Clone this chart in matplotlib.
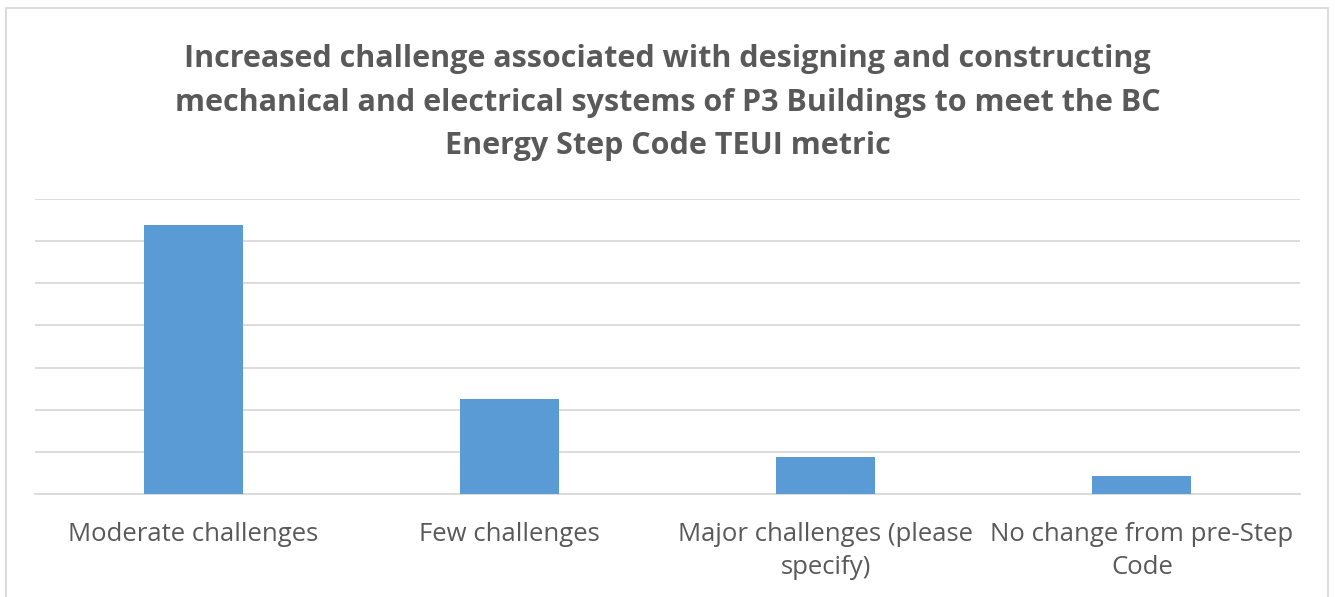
import matplotlib.pyplot as plt
from matplotlib.patches import Rectangle

TITLE = ("Increased challenge associated with designing and constructing\n"
         "mechanical and electrical systems of P3 Buildings to meet the BC\n"
         "Energy Step Code TEUI metric")
CATEGORIES = ["Moderate challenges", "Few challenges",
              "Major challenges (please\nspecify)", "No change from pre-Step\nCode"]
VALUES = [63.7, 22.5, 8.8, 4.3]   # percent of respondents (estimated)
Y_TICKS = [0, 10, 20, 30, 40, 50, 60, 70]

BAR_COLOR = "#5b9bd5"
GRID_COLOR = "#d9d9d9"
TEXT_COLOR = "#595959"

plt.rcParams['font.family'] = ['Open Sans', 'DejaVu Sans']

fig = plt.figure(figsize=(13.35, 5.97), dpi=100)
ax = fig.add_axes([35 / 1335, 1 - 494.3 / 597, 1265 / 1335, 295.8 / 597])

x = range(len(CATEGORIES))
ax.bar(x, VALUES, width=0.313, color=BAR_COLOR, zorder=3)
ax.set_xlim(-0.5, len(CATEGORIES) - 0.5)
ax.set_ylim(Y_TICKS[0], Y_TICKS[-1])
ax.set_yticks(Y_TICKS)
ax.yaxis.grid(True, color=GRID_COLOR, linewidth=1.3, zorder=0)
ax.tick_params(axis='y', left=False, labelleft=False)
ax.tick_params(axis='x', length=0, pad=20, labelsize=18.5, labelcolor=TEXT_COLOR)
ax.set_xticks(list(x))
ax.set_xticklabels(CATEGORIES, linespacing=1.42)
for side in ["top", "right", "left"]:
    ax.spines[side].set_visible(False)
ax.spines["bottom"].set_color(GRID_COLOR)
ax.spines["bottom"].set_linewidth(1.3)

fig.text(0.5, 1 - 102.5 / 597, TITLE, ha="center", va="center", fontsize=22,
         fontweight="bold", color=TEXT_COLOR, linespacing=1.58)

# chart frame
fig.patches.append(Rectangle((6 / 1335, -0.05), 1322 / 1335, 1.05 - 8 / 597,
                             transform=fig.transFigure, fill=False,
                             edgecolor=GRID_COLOR, linewidth=1.3))

fig.savefig("out.png", dpi=100)
